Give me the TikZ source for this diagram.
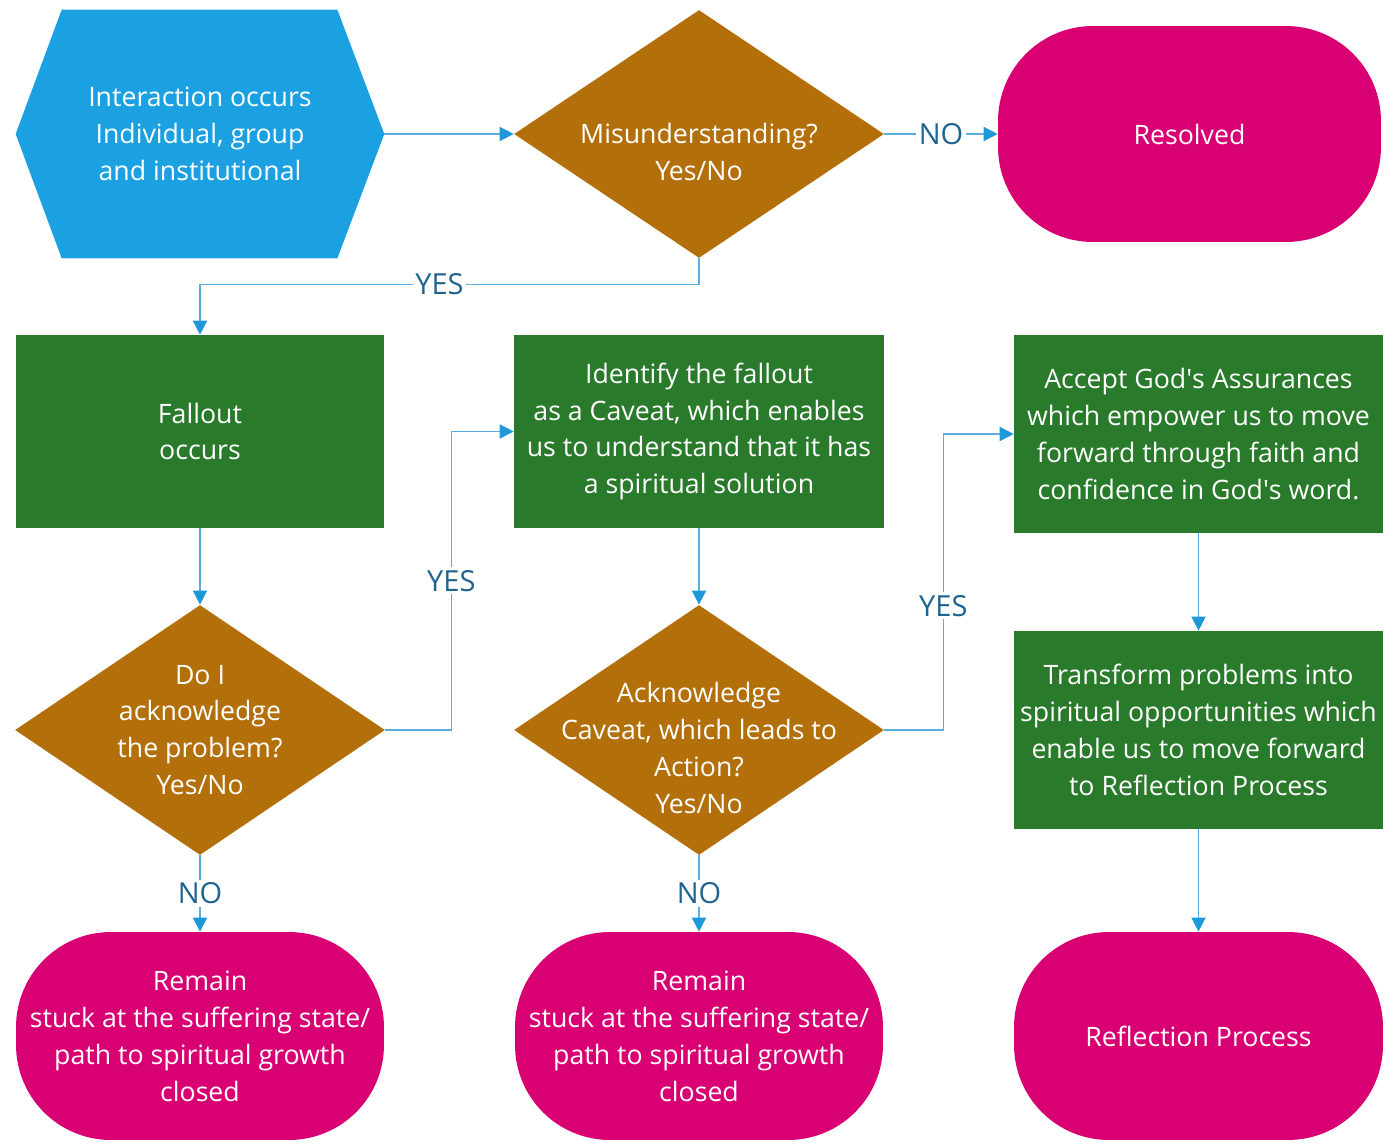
\documentclass[tikz,border=0pt]{standalone}
\usepackage{fontspec}
\setmainfont{Open Sans}
\usetikzlibrary{shapes.geometric,arrows.meta,backgrounds}

\definecolor{hexblue}{HTML}{1BA1E2}
\definecolor{decbrown}{HTML}{B3700A}
\definecolor{procgreen}{HTML}{2A7A2C}
\definecolor{termpink}{HTML}{D80073}
\definecolor{flowline}{HTML}{5AAEDF}
\definecolor{flowhead}{HTML}{1E98D9}
\definecolor{flowtext}{HTML}{1F6390}

\begin{document}
\begin{tikzpicture}[x=0.02cm,y=-0.02cm,
    txt/.style={text=white,align=center,font=\fontsize{15.2}{21}\selectfont},
    proc/.style={txt,fill=procgreen,minimum width=7.38cm,minimum height=3.86cm,inner sep=0pt},
    decide/.style={diamond,fill=decbrown,minimum width=7.4cm,minimum height=5cm,inner sep=0pt},
    term/.style={txt,fill=termpink,rounded corners=1.9cm,minimum width=7.36cm,minimum height=4.16cm,inner sep=0pt},
    flow/.style={draw=flowline,line width=0.9pt,-{Triangle[length=8pt,width=8pt,color=flowhead]}},
    ans/.style={fill=white,text=flowtext,inner sep=1.5pt,font=\fontsize{16.5}{16.5}\selectfont}]
    \useasboundingbox (0,0) rectangle (1393,1143);

    % Start
    \node[txt,minimum width=7.36cm,minimum height=4.96cm,inner sep=0pt] (start) at (200,134)
        {Interaction occurs\\Individual, group\\and institutional};
    \begin{scope}[on background layer]
        \fill[hexblue] (start.west) -- ([xshift=0.92cm]start.north west) -- ([xshift=-0.94cm]start.north east)
            -- (start.east) -- ([xshift=-0.94cm]start.south east) -- ([xshift=0.92cm]start.south west) -- cycle;
    \end{scope}

    % Decisions
    \node[decide,minimum height=4.96cm,label={[txt,yshift=-0.36cm]center:Misunderstanding?\\Yes/No}] (misund) at (699,134) {};
    \node[decide,label={[txt]center:Do I\\acknowledge\\the problem?\\Yes/No}] (ack) at (200,730) {};
    \node[decide,label={[txt,yshift=-0.36cm]center:Acknowledge\\Caveat, which leads to\\Action?\\Yes/No}] (caveat) at (699,730) {};

    % Processes
    \node[proc] (fallout) at (200,431.5) {Fallout\\occurs};
    \node[proc,minimum width=7.4cm] (ident) at (699,431.5)
        {Identify the fallout\\as a Caveat, which enables\\us to understand that it has\\a spiritual solution};
    \node[proc,minimum height=3.96cm] (accept) at (1198.5,434)
        {Accept God\textquotesingle s Assurances\\which empower us to move\\forward through faith and\\confidence in God\textquotesingle s word.};
    \node[proc,minimum height=3.96cm] (transform) at (1198.5,730)
        {Transform problems into\\spiritual opportunities which\\enable us to move forward\\to Reflection Process};

    % Ends
    \node[term,minimum width=7.66cm,minimum height=4.32cm] (resolved) at (1189.5,134) {Resolved};
    \node[term] (stuckA) at (200,1036) {Remain\\stuck at the suffering state/\\path to spiritual growth\\closed};
    \node[term] (stuckB) at (699,1036) {Remain\\stuck at the suffering state/\\path to spiritual growth\\closed};
    \node[term,minimum width=7.38cm] (reflect) at (1198.5,1036) {Reflection Process};

    % Connectors
    \draw[flow] (start) -- (misund);
    \draw[flow] (misund) -- node[ans] {NO} (resolved);
    \draw[flow] (misund.south) -- ++(0,26) -| node[ans,pos=0.26] {YES} (fallout.north);
    \draw[flow] (fallout) -- (ack);
    \draw[flow] (ack.east) -- ++(66,0) |- node[ans,pos=0.25] {YES} (ident.west);
    \draw[flow] (ack) -- node[ans] {NO} (stuckA);
    \draw[flow] (ident) -- (caveat);
    \draw[flow] (caveat.east) -- ++(59,0) |- node[ans,pos=0.21] {YES} (accept.west);
    \draw[flow] (caveat) -- node[ans] {NO} (stuckB);
    \draw[flow] (accept) -- (transform);
    \draw[flow] (transform) -- (reflect);
\end{tikzpicture}
\end{document}
